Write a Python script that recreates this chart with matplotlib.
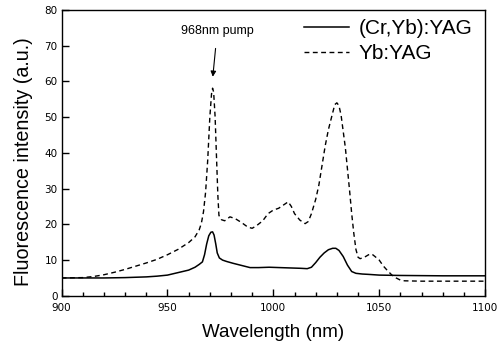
import matplotlib
matplotlib.use('Agg')
import matplotlib.pyplot as plt
from matplotlib import font_manager
from matplotlib.ticker import MultipleLocator

# wavelength (nm) / intensity (a.u.)
yb_x = [900, 910, 915, 920, 925, 930, 935, 940, 945, 950, 955, 960, 963, 965, 966, 967, 968,
        969, 970, 970.8, 971.3, 971.8, 972.5, 973.2, 973.8, 974.3, 975.5, 977, 979.5, 982,
        985, 988, 990, 992, 995, 997.5, 1000, 1002.5, 1005, 1007, 1008.5, 1010, 1012.5, 1015,
        1016.5, 1018, 1020, 1021.5, 1023, 1024.5, 1026, 1027.5, 1029, 1030, 1031, 1032, 1033,
        1034, 1035, 1036, 1037, 1038, 1039, 1040, 1041, 1043, 1045, 1046.5, 1048, 1050, 1052,
        1054, 1056, 1058, 1060, 1062, 1070, 1100]
yb_y = [5.0, 5.1, 5.4, 5.9, 6.6, 7.4, 8.3, 9.2, 10.2, 11.5, 13.0, 14.9, 16.5, 18.5, 20.3, 23.5, 29,
        38, 50, 56.5, 58.1, 57, 50, 38, 28, 22.5, 21.3, 21.0, 22.1, 21.6,
        20.5, 19.2, 18.9, 19.6, 21.0, 23.0, 24.0, 24.5, 25.5, 26.3, 25.0, 23.0, 21.2, 20.2,
        20.8, 23.0, 27, 31, 36.5, 42, 46.5, 50.0, 53.5, 54.0, 53.2, 50.5, 46,
        41.5, 35.5, 29.5, 23, 17.5, 13, 10.8, 10.4, 10.8, 11.5, 11.7, 11.0, 10.0, 8.3,
        7.0, 5.8, 5.0, 4.4, 4.2, 4.1, 4.1]

cryb_x = [900, 910, 920, 930, 940, 945, 950, 955, 960, 963, 965, 966.5, 967.5, 968.5, 969.5,
          970.5, 971.3, 972, 972.8, 973.5, 974.5, 976, 978, 981, 985, 989, 993, 998, 1003,
          1008, 1013, 1016, 1018, 1020, 1022, 1024, 1026, 1028, 1029.5, 1031, 1033, 1035,
          1037, 1039, 1042, 1045, 1050, 1060, 1080, 1100]
cryb_y = [5.0, 5.0, 5.0, 5.1, 5.3, 5.5, 5.8, 6.5, 7.2, 8.0, 8.8, 9.5, 11.5, 14.5, 16.8,
          17.8, 17.9, 17.0, 14.5, 12.0, 10.6, 10.0, 9.6, 9.1, 8.5, 7.9, 7.9, 8.0, 7.9,
          7.8, 7.7, 7.6, 8.0, 9.3, 10.8, 12.0, 12.9, 13.3, 13.3, 12.7, 11.0, 8.6,
          6.8, 6.3, 6.1, 6.0, 5.8, 5.7, 5.6, 5.6]

installed = set(f.name for f in font_manager.fontManager.ttflist)
tickfont = 'Liberation Sans Narrow' if 'Liberation Sans Narrow' in installed else 'DejaVu Sans'
plt.rcParams['font.family'] = ['Liberation Sans', 'DejaVu Sans']

fig = plt.figure(figsize=(4.97, 3.42), dpi=100)
ax = fig.add_axes([0.124, 0.135, 0.852, 0.836])

ax.plot(cryb_x, cryb_y, color='k', lw=1.1, label='(Cr,Yb):YAG')
ax.plot(yb_x, yb_y, color='k', lw=1.0, ls=(0, (3.5, 2.5)), label='Yb:YAG')

ax.set_xlim(900, 1100)
ax.set_ylim(0, 80)
ax.xaxis.set_major_locator(MultipleLocator(50))
ax.xaxis.set_minor_locator(MultipleLocator(10))
ax.yaxis.set_major_locator(MultipleLocator(10))
ax.tick_params(which='both', direction='in', top=False, right=False, width=1.0)
ax.tick_params(which='major', length=5)
ax.tick_params(which='minor', length=3)
ax.tick_params(axis='x', pad=5)
ax.tick_params(axis='y', pad=3)
for lab in ax.get_xticklabels() + ax.get_yticklabels():
    lab.set_fontfamily(tickfont)
    lab.set_fontsize(7.5)
for s in ax.spines.values():
    s.set_linewidth(1.0)

ax.set_xlabel('Wavelength (nm)', fontsize=13.5, labelpad=8)
ax.set_ylabel('Fluorescence intensity (a.u.)', fontsize=14.2)
ax.yaxis.set_label_coords(-0.068, 0.47)

ax.annotate('968nm pump', xy=(971.4, 61.3), xytext=(973.5, 74.0),
            ha='center', va='center', fontsize=9,
            arrowprops=dict(arrowstyle='-|>', color='k', lw=0.8, mutation_scale=8,
                            shrinkA=6, shrinkB=0))

ax.legend(loc='upper right', frameon=False, fontsize=15, handlelength=2.2,
          handletextpad=0.45, labelspacing=0.3, borderaxespad=0.2,
          bbox_to_anchor=(1.0, 1.012))

fig.savefig('out.png', dpi=100)
